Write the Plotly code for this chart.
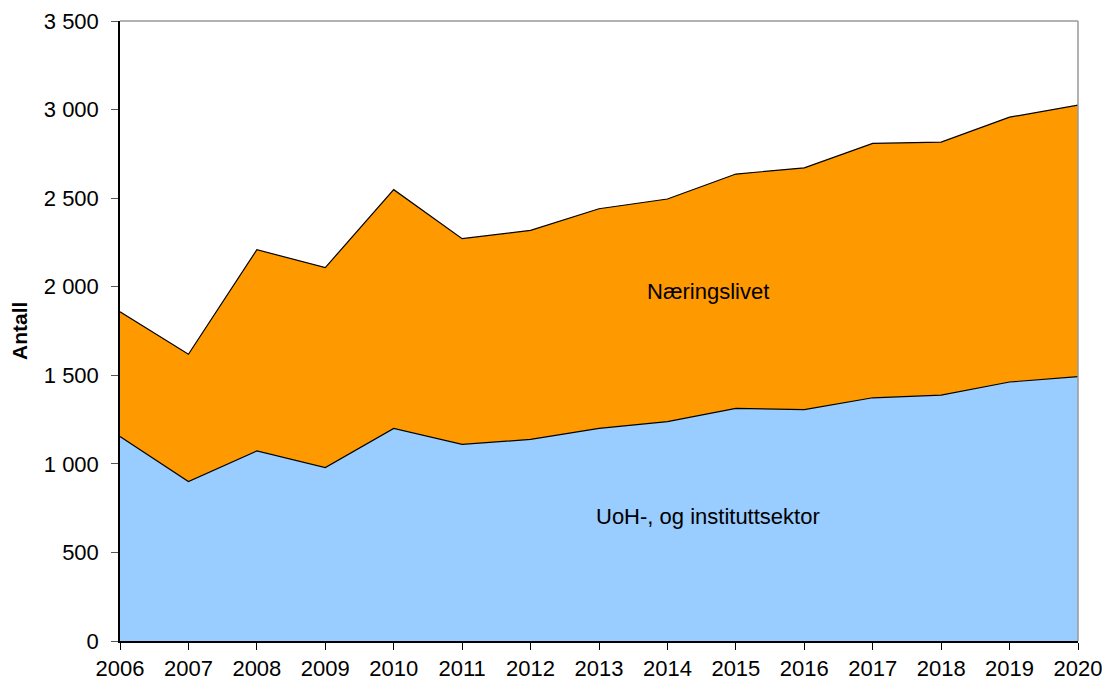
import plotly.graph_objects as go

years = list(range(2006, 2021))
uoh_institutt = [1154, 900, 1073, 979, 1200, 1110, 1138, 1200, 1238, 1313, 1306, 1373, 1388, 1462, 1492]
naeringslivet = [704, 719, 1136, 1129, 1348, 1161, 1180, 1240, 1257, 1323, 1365, 1436, 1428, 1495, 1533]
y_ticks = [0, 500, 1000, 1500, 2000, 2500, 3000, 3500]

FONT = "Liberation Sans, Arial, sans-serif"

fig = go.Figure()
fig.add_trace(go.Scatter(x=years, y=uoh_institutt, name="UoH-, og instituttsektor",
                         stackgroup="one", mode="lines",
                         line=dict(color="black", width=1.2), fillcolor="#99CCFF"))
fig.add_trace(go.Scatter(x=years, y=naeringslivet, name="Næringslivet",
                         stackgroup="one", mode="lines",
                         line=dict(color="black", width=1.2), fillcolor="#FF9900"))

fig.add_annotation(x=2014.6, y=1973, text="Næringslivet", showarrow=False,
                   font=dict(family=FONT, size=22, color="black"))
fig.add_annotation(x=2014.6, y=704, text="UoH-, og instituttsektor", showarrow=False,
                   font=dict(family=FONT, size=22, color="black"))
# y axis title placed by hand, closer to the edge than the axis title allows
fig.add_annotation(xref="paper", yref="paper", x=0, y=0.5, xanchor="center", yanchor="middle",
                   xshift=-101, text="<b>Antall</b>", textangle=-90, showarrow=False,
                   font=dict(family=FONT, size=21, color="black"))

# grey frame on top and right side
fig.add_shape(type="line", xref="paper", yref="paper", x0=0, x1=1, y0=1, y1=1,
              line=dict(color="#999999", width=1.5))
fig.add_shape(type="line", xref="paper", yref="paper", x0=1, x1=1, y0=0, y1=1,
              line=dict(color="#999999", width=1.5))

fig.update_layout(
    width=1110, height=688,
    margin=dict(l=112, r=40, t=13, b=55),
    paper_bgcolor="white", plot_bgcolor="white",
    showlegend=False,
    separators=", ",
    font=dict(family=FONT, size=22, color="black"),
)
fig.update_xaxes(range=[2006, 2020], tickmode="array", tickvals=years,
                 ticks="outside", ticklen=7, tickcolor="black",
                 showline=True, linecolor="black", linewidth=1.5,
                 showgrid=False, zeroline=False, automargin=False,
                 ticklabeloverflow="allow",
                 tickfont=dict(family=FONT, size=22, color="black"))
fig.update_yaxes(range=[0, 3500], tickmode="array", tickvals=y_ticks, tickformat=",d",
                 ticks="outside", ticklen=7, tickcolor="#555555",
                 showline=True, linecolor="black", linewidth=1.5,
                 showgrid=False, zeroline=False, automargin=False,
                 ticklabeloverflow="allow", ticklabelstandoff=8,
                 tickfont=dict(family=FONT, size=22, color="black"))

fig.write_html("out.html")
